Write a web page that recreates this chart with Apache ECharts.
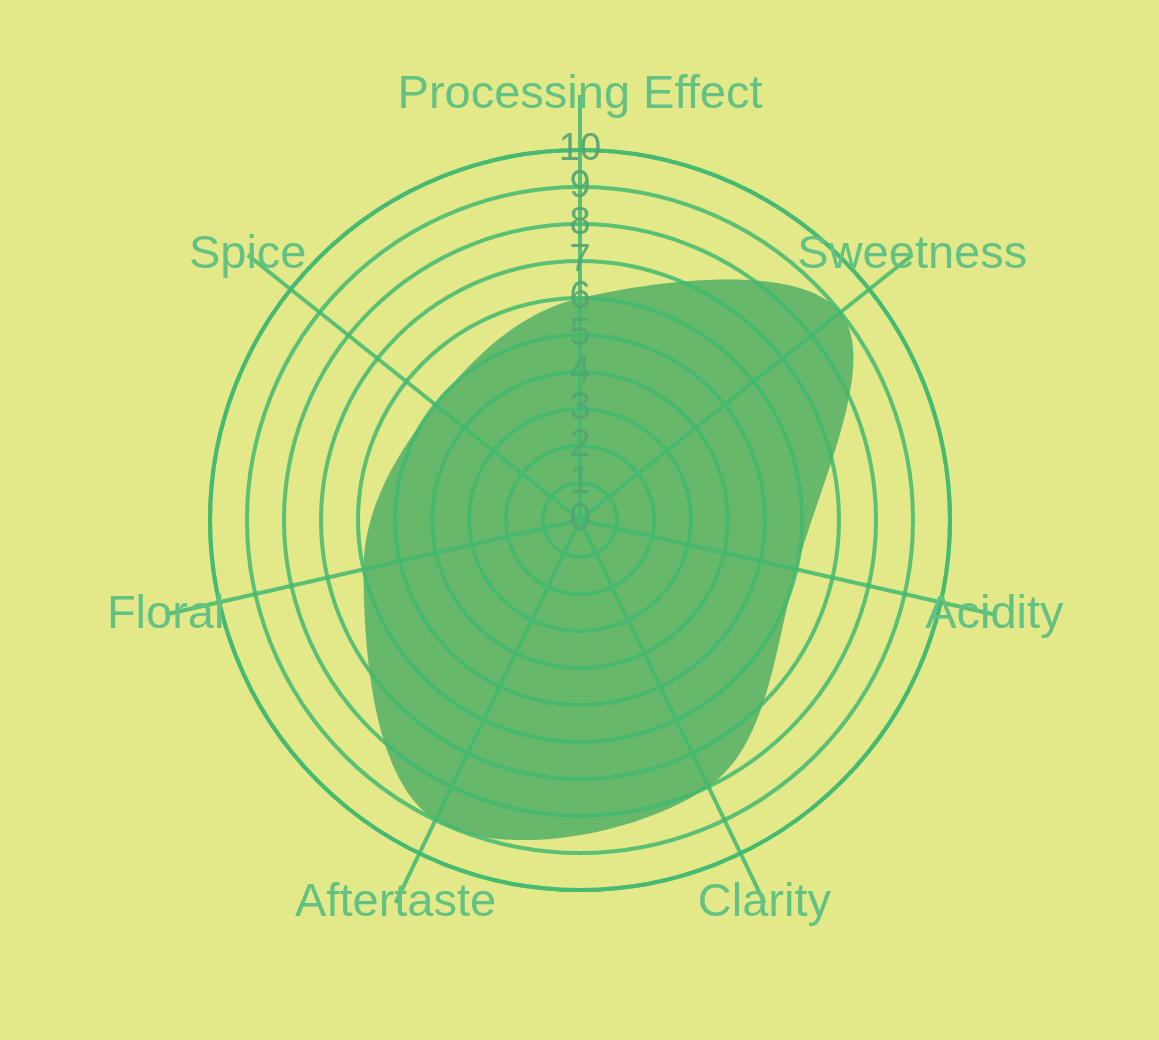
<!DOCTYPE html>
<html><head><meta charset="utf-8">
<style>html,body{margin:0;padding:0;background:#e3e889;} #main{width:1159px;height:1040px;}</style>
<script src="https://cdn.jsdelivr.net/npm/echarts@6/dist/echarts.min.js"></script>
</head><body><div id="main"></div>
<script>
const categories = ['Processing Effect', 'Sweetness', 'Acidity', 'Clarity', 'Aftertaste', 'Floral', 'Spice'];
const scores = [6, 9, 6, 8, 9, 6, 5];
const radiusTicks = [0, 1, 2, 3, 4, 5, 6, 7, 8, 9, 10];
const radiusMin = 0;
const radiusMax = 10;
const radiusStep = 1;

const chart = echarts.init(document.getElementById('main'), null, {renderer: 'canvas'});
const lineColor = 'rgba(66,184,112,0.85)';
const fontFamily = '"Liberation Sans", Arial, Helvetica, sans-serif';
const nCat = categories.length;
const option = {
  backgroundColor: '#e3e889',
  animation: false,
  polar: [
    {center: [580, 520], radius: 370},
    {center: [580, 520], radius: 425}
  ],
  angleAxis: [
    {polarIndex: 0, type: 'value', min: 0, max: nCat, interval: 1, startAngle: 90, clockwise: true,
     axisLine: {show: true, lineStyle: {color: lineColor, width: 4}}, axisTick: {show: false},
     axisLabel: {show: false}, splitLine: {show: false}, splitArea: {show: false}, z: 5},
    {polarIndex: 1, type: 'value', min: 0, max: nCat, interval: 1, startAngle: 90, clockwise: true,
     axisLine: {show: false}, axisTick: {show: false}, axisLabel: {show: false},
     splitLine: {show: true, lineStyle: {color: lineColor, width: 4}}, splitArea: {show: false}, z: 5}
  ],
  radiusAxis: [
    {polarIndex: 0, type: 'value', min: radiusMin, max: radiusMax, interval: radiusStep,
     axisLine: {show: false}, axisTick: {show: false}, axisLabel: {show: false},
     splitLine: {show: true, lineStyle: {color: lineColor, width: 4}}, splitArea: {show: false}, z: 5},
    {polarIndex: 1, type: 'value', min: 0, max: 1, show: false, splitLine: {show: false}}
  ],
  series: [
    {
      type: 'custom', coordinateSystem: 'polar', polarIndex: 0, z: 1,
      data: scores.map((v, i) => [v, i]),
      renderItem: function (params, api) {
        if (params.dataIndex !== 0) return null;
        const pts = scores.map((v, i) => api.coord([v, i]));
        return {type: 'polygon', shape: {points: pts, smooth: 0.36}, style: {fill: '#68b86c', stroke: 'none'}};
      }
    },
    {
      type: 'scatter', coordinateSystem: 'polar', polarIndex: 0, z: 8,
      data: radiusTicks.map(v => [v, 0]),
      symbolSize: 2, itemStyle: {color: 'rgba(0,0,0,0)', opacity: 1},
      label: {show: true, position: 'inside', formatter: p => String(radiusTicks[p.dataIndex]),
              fontSize: 38, fontFamily: fontFamily, color: 'rgba(84,164,114,0.92)', textBorderWidth: 0,
              align: 'center', verticalAlign: 'middle', padding: [6, 0, 0, 0]},
      labelLayout: {hideOverlap: false},
      emphasis: {disabled: true}
    },
    {
      type: 'scatter', coordinateSystem: 'polar', polarIndex: 1, z: 7,
      data: categories.map((c, i) => [1, i]),
      symbolSize: 2, itemStyle: {color: 'rgba(0,0,0,0)', opacity: 1},
      label: {show: true, position: 'inside', formatter: p => categories[p.dataIndex],
              fontSize: 47, fontFamily: fontFamily, color: '#63c283', textBorderWidth: 0,
              align: 'center', verticalAlign: 'middle', padding: [8, 0, 0, 0]},
      labelLayout: {hideOverlap: false},
      emphasis: {disabled: true}
    }
  ]
};
chart.setOption(option);
</script>
</body></html>
